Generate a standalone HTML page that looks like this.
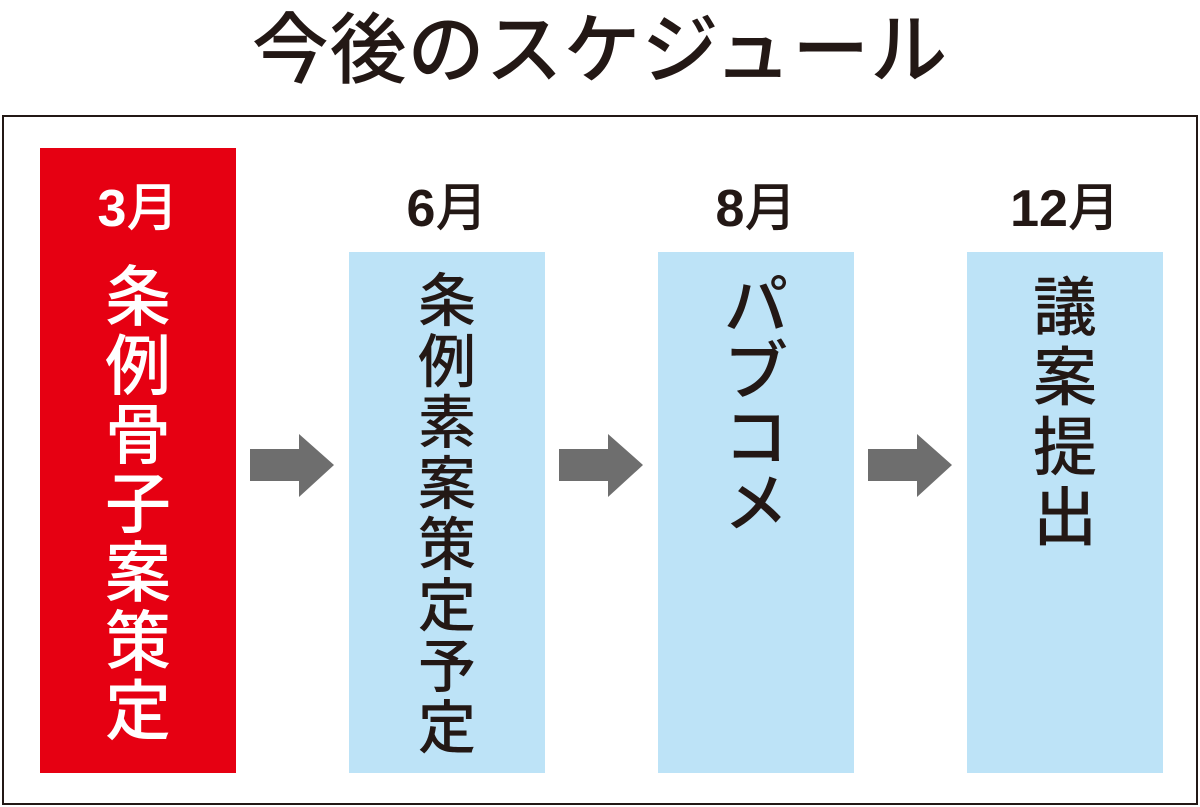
<!DOCTYPE html>
<html><head><meta charset="utf-8"><style>
*{margin:0;padding:0;box-sizing:border-box}
body{width:1200px;height:807px;background:#fff;position:relative;overflow:hidden;font-family:"Liberation Sans","Noto Sans CJK JP",sans-serif;color:#231815}
.title{position:absolute;left:0;width:1200px;top:0px;text-align:center;font-size:77px;line-height:90px;letter-spacing:1px;font-family:"Noto Sans CJK JP",sans-serif;font-weight:500}
.frame{position:absolute;left:2px;top:115px;width:1196px;height:690px;border:2px solid #231815}
.box{position:absolute;width:196px}
.red{left:40px;top:148px;height:625px;background:#e60012;color:#fff}
.blue{top:252px;height:521px;background:#bde3f7}
.mon{position:absolute;width:196px;text-align:center;font-size:52px;font-weight:bold;top:174px;line-height:60px}
.mon i{font-style:normal;font-family:"Noto Sans CJK JP",sans-serif;font-weight:500}
.col{position:absolute;width:196px;text-align:center;font-size:66px;display:flex;flex-direction:column;align-items:center;font-family:"Noto Sans CJK JP",sans-serif;font-weight:500}
.col span{display:block}
svg{position:absolute}
</style></head><body>
<div class="title">今後のスケジュール</div>
<div class="frame"></div>
<div class="box red"></div>
<div class="box blue" style="left:349px"></div>
<div class="box blue" style="left:658px"></div>
<div class="box blue" style="left:967px"></div>
<div class="mon" style="left:40px;color:#fff">3<i>月</i></div>
<div class="mon" style="left:349px">6<i>月</i></div>
<div class="mon" style="left:658px">8<i>月</i></div>
<div class="mon" style="left:967px">12<i>月</i></div>
<div class="col" style="left:40px;top:258px;color:#fff;line-height:69px"><span>条</span><span>例</span><span>骨</span><span>子</span><span>案</span><span>策</span><span>定</span></div>
<div class="col" style="left:349px;top:266px;line-height:61px;font-size:58px"><span>条</span><span>例</span><span>素</span><span>案</span><span>策</span><span>定</span><span>予</span><span>定</span></div>
<div class="col" style="left:658px;top:268px;line-height:66px;font-size:64px"><span>パ</span><span>ブ</span><span>コ</span><span>メ</span></div>
<div class="col" style="left:967px;top:268px;line-height:70px;font-size:64px"><span>議</span><span>案</span><span>提</span><span>出</span></div>
<svg width="1200" height="807" style="left:0;top:0">
<g fill="#6e6e6e">
<polygon points="250,449 299,449 299,434 334,465 299,497 299,481 250,481"/>
<polygon points="559,449 608,449 608,434 643,465 608,497 608,481 559,481"/>
<polygon points="868,449 917,449 917,434 952,465 917,497 917,481 868,481"/>
</g></svg>
</body></html>
